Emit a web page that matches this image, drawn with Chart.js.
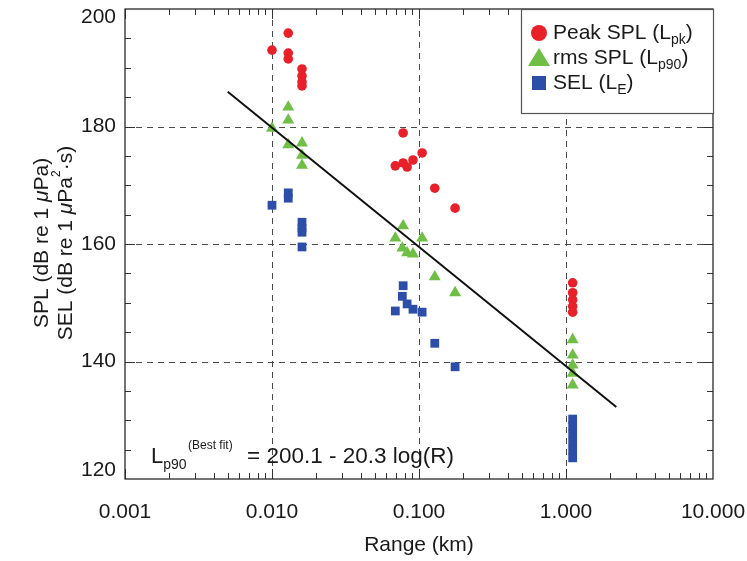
<!DOCTYPE html>
<html>
<head>
<meta charset="utf-8">
<title>Sound level vs range</title>
<script src="https://cdn.jsdelivr.net/npm/chart.js@4.4.1/dist/chart.umd.min.js"></script>
<style>
  html, body { margin: 0; padding: 0; background: #fff; }
  #wrap { width: 747px; height: 561px; }
</style>
</head>
<body>
<div id="wrap"><canvas id="chart" width="747" height="561"></canvas></div>
<script>
// Peak SPL (Lpk), range in km, level in dB
const peakRange = [0.010, 0.0129, 0.0129, 0.0129, 0.016, 0.016, 0.016, 0.016,
  0.078, 0.069, 0.078, 0.083, 0.091, 0.105, 0.128, 0.176,
  1.11, 1.11, 1.11, 1.11, 1.11];
const peakLevel = [193.0, 195.9, 192.5, 191.5, 189.8, 188.6, 187.6, 186.9,
  178.9, 173.3, 173.8, 173.1, 174.3, 175.5, 169.5, 166.1,
  153.4, 151.7, 150.5, 149.4, 148.4];

// rms SPL (Lp90)
const rmsRange = [0.010, 0.0129, 0.0129, 0.0129, 0.016, 0.016, 0.016,
  0.078, 0.069, 0.077, 0.083, 0.091, 0.105, 0.128, 0.176,
  1.11, 1.11, 1.11, 1.11, 1.11];
const rmsLevel = [179.7, 183.3, 181.1, 176.9, 177.2, 175.1, 173.4,
  163.1, 161.0, 159.3, 158.5, 158.3, 161.0, 154.4, 151.7,
  143.7, 141.1, 139.4, 138.0, 136.0];

// SEL (LE)
const selRange = [0.010, 0.0129, 0.0129, 0.016, 0.016, 0.016, 0.016,
  0.078, 0.077, 0.083, 0.069, 0.091, 0.105, 0.128, 0.176,
  1.11, 1.11, 1.11, 1.11, 1.11, 1.11];
const selLevel = [166.6, 168.7, 167.8, 163.7, 162.7, 162.0, 159.5,
  152.9, 151.1, 149.8, 148.6, 148.9, 148.4, 143.1, 139.1,
  130.2, 129.0, 127.7, 126.3, 124.9, 123.6];

// best fit: Lp90 = 200.1 - 20.3 log(R), R in metres
const fitIntercept = 200.1;
const fitSlope = 20.3;
const fitRange = [0.005, 2.2];

const xTickValues = [0.001, 0.01, 0.1, 1, 10];
const yTickValues = [120, 140, 160, 180, 200];

const RED = '#e8202a';
const GREEN = '#6fbe45';
const BLUE = '#2d4ea8';
const INK = '#1a1a1a';
const FONT = "'Liberation Sans', Arial, Helvetica, sans-serif";

const toPoints = (xs, ys) => xs.map((x, i) => ({ x: x, y: ys[i] }));
const fitLevel = r => fitIntercept - fitSlope * Math.log10(r * 1000);

// draw a row of text pieces with different fonts / vertical shifts
function drawRuns(ctx, runs, x, y, align) {
  let total = 0;
  runs.forEach(r => { ctx.font = r.font; total += ctx.measureText(r.text).width; });
  let cx = align === 'center' ? x - total / 2 : x;
  ctx.textAlign = 'left';
  runs.forEach(r => {
    ctx.font = r.font;
    ctx.fillText(r.text, cx, y + (r.dy || 0));
    cx += ctx.measureText(r.text).width;
  });
}

const framePlugin = {
  id: 'frame',
  beforeDatasetsDraw(chart) {
    const { ctx, chartArea: a, scales: { x, y } } = chart;
    ctx.save();

    // dashed grid at the inner decades and 20 dB steps
    ctx.strokeStyle = '#4a4a4a';
    ctx.lineWidth = 1;
    ctx.setLineDash([6, 5]);
    xTickValues.slice(1, -1).forEach(v => {
      const px = Math.round(x.getPixelForValue(v)) + 0.5;
      ctx.beginPath(); ctx.moveTo(px, a.top); ctx.lineTo(px, a.bottom); ctx.stroke();
    });
    yTickValues.slice(1, -1).forEach(v => {
      const py = Math.round(y.getPixelForValue(v)) + 0.5;
      ctx.beginPath(); ctx.moveTo(a.left, py); ctx.lineTo(a.right, py); ctx.stroke();
    });
    ctx.setLineDash([]);

    // inward ticks on all four sides
    ctx.strokeStyle = '#333';
    ctx.lineWidth = 1;
    for (let e = -3; e < 1; e++) {
      for (let k = 1; k < 10; k++) {
        const px = Math.round(x.getPixelForValue(k * Math.pow(10, e))) + 0.5;
        const len = k === 1 ? 10 : 6;
        ctx.beginPath();
        ctx.moveTo(px, a.bottom); ctx.lineTo(px, a.bottom - len);
        ctx.moveTo(px, a.top); ctx.lineTo(px, a.top + len);
        ctx.stroke();
      }
    }
    for (let v = 125; v < 200; v += 5) {
      const py = Math.round(y.getPixelForValue(v)) + 0.5;
      const len = v % 20 === 0 ? 10 : 6;
      ctx.beginPath();
      ctx.moveTo(a.left, py); ctx.lineTo(a.left + len, py);
      ctx.moveTo(a.right, py); ctx.lineTo(a.right - len, py);
      ctx.stroke();
    }

    // plot frame
    ctx.strokeStyle = '#2a2a2a';
    ctx.lineWidth = 1.3;
    ctx.strokeRect(a.left, a.top, a.right - a.left, a.bottom - a.top);
    ctx.restore();
  },
  afterDatasetsDraw(chart) {
    const { ctx, chartArea: a, scales: { y } } = chart;
    ctx.save();
    ctx.fillStyle = INK;
    ctx.textBaseline = 'middle';

    // y tick labels, end labels nudged inside the frame
    ctx.font = '21px ' + FONT;
    ctx.textAlign = 'right';
    yTickValues.forEach(v => {
      let py = y.getPixelForValue(v);
      if (v === 200) py += 8;
      if (v === 120) py -= 9;
      ctx.fillText(String(v), a.left - 9, py);
    });

    // y axis title, two rotated lines
    const big = '21px ' + FONT;
    const ital = 'italic 21px ' + FONT;
    const tiny = '12px ' + FONT;
    ctx.textBaseline = 'middle';
    ctx.save();
    ctx.translate(42, 243);
    ctx.rotate(-Math.PI / 2);
    drawRuns(ctx, [
      { text: 'SPL (dB re 1 ', font: big },
      { text: 'μ', font: ital },
      { text: 'Pa)', font: big }
    ], 0, 0, 'center');
    ctx.restore();
    ctx.save();
    ctx.translate(66, 243);
    ctx.rotate(-Math.PI / 2);
    drawRuns(ctx, [
      { text: 'SEL (dB re 1 ', font: big },
      { text: 'μ', font: ital },
      { text: 'Pa', font: big },
      { text: '2', font: tiny, dy: -9 },
      { text: '·s)', font: big }
    ], 0, 0, 'center');
    ctx.restore();

    // legend box
    const lx = 521, ly = a.top, lw = a.right - lx, lh = 104;
    ctx.fillStyle = '#fff';
    ctx.fillRect(lx, ly, lw, lh);
    ctx.strokeStyle = '#555';
    ctx.lineWidth = 1.2;
    ctx.strokeRect(lx + 0.5, ly + 0.5, lw, lh);

    const mx = 539;
    const rows = [
      { y: 33, sub: 'pk', label: 'Peak SPL (L' },
      { y: 58, sub: 'p90', label: 'rms SPL (L' },
      { y: 83, sub: 'E', label: 'SEL (L' }
    ];
    // markers
    ctx.fillStyle = RED;
    ctx.beginPath(); ctx.arc(mx, rows[0].y, 8, 0, Math.PI * 2); ctx.fill();
    ctx.fillStyle = GREEN;
    ctx.beginPath();
    ctx.moveTo(mx, rows[1].y - 10); ctx.lineTo(mx + 11, rows[1].y + 8); ctx.lineTo(mx - 11, rows[1].y + 8);
    ctx.closePath(); ctx.fill();
    ctx.fillStyle = BLUE;
    ctx.fillRect(mx - 7, rows[2].y - 7, 14, 14);

    ctx.fillStyle = INK;
    const sub = '14px ' + FONT;
    rows.forEach(r => {
      drawRuns(ctx, [
        { text: r.label, font: big },
        { text: r.sub, font: sub, dy: 7 },
        { text: ')', font: big }
      ], 553, r.y, 'left');
    });

    // best-fit equation
    ctx.textBaseline = 'alphabetic';
    ctx.fillStyle = INK;
    drawRuns(ctx, [
      { text: 'L', font: '22px ' + FONT },
      { text: 'p90', font: '14px ' + FONT, dy: 6 }
    ], 151, 463, 'left');
    ctx.font = '12px ' + FONT;
    ctx.fillText('(Best fit)', 188, 449);
    ctx.font = '22.5px ' + FONT;
    ctx.fillText('= 200.1 - 20.3 log(R)', 247, 463);
    ctx.restore();
  }
};

const fitPoints = fitRange.map(r => ({ x: r, y: fitLevel(r) }));

new Chart(document.getElementById('chart'), {
  type: 'scatter',
  data: {
    datasets: [
      {
        label: 'Best fit',
        data: fitPoints,
        showLine: true,
        borderColor: '#111',
        borderWidth: 2,
        pointRadius: 0,
        fill: false
      },
      {
        label: 'Peak SPL (Lpk)',
        data: toPoints(peakRange, peakLevel),
        pointStyle: 'circle',
        pointRadius: 4.8,
        backgroundColor: RED,
        borderColor: RED,
        borderWidth: 0
      },
      {
        label: 'rms SPL (Lp90)',
        data: toPoints(rmsRange, rmsLevel),
        pointStyle: 'triangle',
        pointRadius: 6.9,
        backgroundColor: GREEN,
        borderColor: GREEN,
        borderWidth: 0
      },
      {
        label: 'SEL (LE)',
        data: toPoints(selRange, selLevel),
        pointStyle: 'rect',
        pointRadius: 6.2,
        backgroundColor: BLUE,
        borderColor: BLUE,
        borderWidth: 0
      }
    ]
  },
  options: {
    responsive: false,
    animation: false,
    devicePixelRatio: 1,
    layout: { padding: { top: 9, right: 34, bottom: 0, left: 0 } },
    plugins: {
      legend: { display: false },
      tooltip: { enabled: false }
    },
    scales: {
      x: {
        type: 'logarithmic',
        min: 0.001,
        max: 10,
        afterBuildTicks: scale => { scale.ticks = xTickValues.map(v => ({ value: v })); },
        afterFit: scale => { scale.height = 82; scale.paddingLeft = 0; scale.paddingRight = 0; },
        grid: { display: false, drawTicks: false },
        border: { display: false },
        ticks: {
          color: INK,
          font: { family: FONT, size: 21 },
          padding: 21,
          maxRotation: 0,
          autoSkip: false,
          callback: v => Number(v).toFixed(3)
        },
        title: {
          display: true,
          text: 'Range (km)',
          color: INK,
          font: { family: FONT, size: 21 },
          padding: { top: 4, bottom: 3 }
        }
      },
      y: {
        type: 'linear',
        min: 120,
        max: 200,
        afterFit: scale => { scale.width = 125; },
        grid: { display: false, drawTicks: false },
        border: { display: false },
        ticks: { display: false }
      }
    }
  },
  plugins: [framePlugin]
});
</script>
</body>
</html>
